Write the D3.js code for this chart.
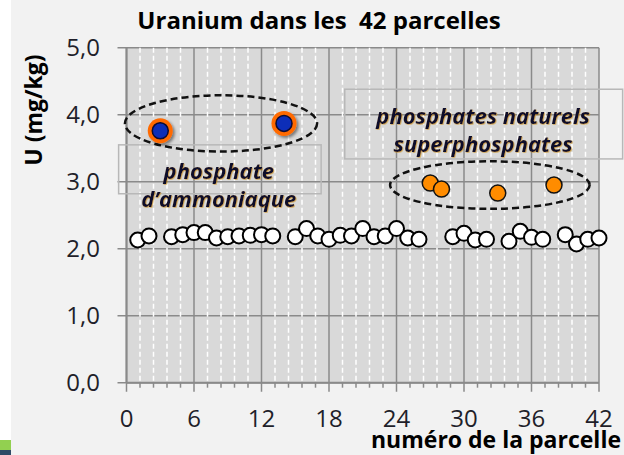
<!DOCTYPE html>
<html>
<head>
<meta charset="utf-8">
<script src="https://cdn.jsdelivr.net/npm/d3@7"></script>
<style>
  html, body { margin: 0; padding: 0; background: #f2f2f2; }
  svg { display: block; font-family: "Open Sans", "Noto Sans", sans-serif; }
</style>
</head>
<body>
<div id="container"></div>
<script>
/* DATA */
const parcelle = [1, 2, 3, 4, 5, 6, 7, 8, 9, 10, 11, 12, 13, 14, 15, 16, 17, 18, 19, 20, 21,
  22, 23, 24, 25, 26, 27, 28, 29, 30, 31, 32, 33, 34, 35, 36, 37, 38, 39, 40, 41, 42];
const uranium = [2.13, 2.19, 3.76, 2.18, 2.21, 2.24, 2.24, 2.16, 2.18, 2.19, 2.20, 2.21, 2.19, 3.87,
  2.18, 2.30, 2.19, 2.14, 2.20, 2.19, 2.30, 2.18, 2.19, 2.30, 2.16, 2.14, 2.98, 2.89,
  2.18, 2.23, 2.13, 2.14, 2.83, 2.11, 2.26, 2.17, 2.14, 2.95, 2.21, 2.07, 2.14, 2.16];
// parcelles fertilisées
const ammonium = [3, 14];
const naturels = [27, 28, 33, 38];

const xTicks = [0, 6, 12, 18, 24, 30, 36, 42];
const yTicks = [0, 1, 2, 3, 4, 5];
const minorStep = 1.2;

/* CONSTANTS AND GLOBALS */
const width = 624,
  height = 455,
  margin = { top: 47.7, bottom: 72.3, left: 126.5, right: 25 };

const svg = d3.select("#container")
  .append("svg")
  .attr("width", width)
  .attr("height", height);

const defs = svg.append("defs");
defs.append("filter").attr("id", "shadow")
  .attr("x", "-50%").attr("y", "-50%").attr("width", "200%").attr("height", "200%")
  .append("feDropShadow")
  .attr("dx", 2).attr("dy", 2).attr("stdDeviation", 1.5)
  .attr("flood-color", "#000").attr("flood-opacity", 0.45);
defs.append("filter").attr("id", "glow")
  .attr("x", "-10%").attr("y", "-30%").attr("width", "120%").attr("height", "160%")
  .append("feDropShadow")
  .attr("dx", 0.7).attr("dy", 0.7).attr("stdDeviation", 0.4)
  .attr("flood-color", "#c98a10").attr("flood-opacity", 0.75);

// bordure de la diapo
svg.append("rect").attr("x", 0).attr("y", 0).attr("width", 11).attr("height", height).attr("fill", "#fff");
svg.append("rect").attr("x", 0).attr("y", 440).attr("width", 11).attr("height", 10).attr("fill", "#92d050");
svg.append("rect").attr("x", 0).attr("y", 450).attr("width", 11).attr("height", 5).attr("fill", "#2e4a66");

// SCALES
const x = d3.scaleLinear().domain([0, 42]).range([margin.left, width - margin.right]);
const y = d3.scaleLinear().domain([0, 5]).range([height - margin.bottom, margin.top]);

const gridGrey = "#8a8a8a";

// plot area
svg.append("rect")
  .attr("x", x(0)).attr("y", y(5))
  .attr("width", x(42) - x(0)).attr("height", y(0) - y(5))
  .attr("fill", "#d9d9d9");

const minor = d3.range(0, 42 + 0.001, minorStep).filter(v => xTicks.indexOf(Math.round(v * 10) / 10) < 0);

// horizontal gridlines
svg.selectAll("line.hgrid")
  .data(yTicks)
  .join("line")
  .attr("class", "hgrid")
  .attr("x1", x(0) - 9).attr("x2", x(42))
  .attr("y1", d => y(d)).attr("y2", d => y(d))
  .attr("stroke", gridGrey).attr("stroke-width", 1.5);

// minor vertical gridlines (white dashes)
svg.selectAll("line.vminor")
  .data(minor)
  .join("line")
  .attr("class", "vminor")
  .attr("x1", d => x(d)).attr("x2", d => x(d))
  .attr("y1", y(5)).attr("y2", y(0))
  .attr("stroke", "#fff").attr("stroke-width", 1.5)
  .attr("stroke-dasharray", "5,3");

// major vertical gridlines
svg.selectAll("line.vmajor")
  .data(xTicks)
  .join("line")
  .attr("class", "vmajor")
  .attr("x1", d => x(d)).attr("x2", d => x(d))
  .attr("y1", y(5)).attr("y2", y(0) + 9)
  .attr("stroke", gridGrey).attr("stroke-width", 1.5);

// minor ticks x
svg.selectAll("line.mtick")
  .data(minor)
  .join("line")
  .attr("class", "mtick")
  .attr("x1", d => x(d)).attr("x2", d => x(d))
  .attr("y1", y(0)).attr("y2", y(0) + 5)
  .attr("stroke", gridGrey).attr("stroke-width", 1.5);

// axis lines
svg.append("line").attr("x1", x(0)).attr("x2", x(0)).attr("y1", y(5)).attr("y2", y(0))
  .attr("stroke", gridGrey).attr("stroke-width", 2);
svg.append("line").attr("x1", x(0)).attr("x2", x(42)).attr("y1", y(0)).attr("y2", y(0))
  .attr("stroke", gridGrey).attr("stroke-width", 2);

// TICK LABELS
const fmt = d => d3.format(".1f")(d).replace(".", ",");
svg.selectAll("text.ylab")
  .data(yTicks)
  .join("text")
  .attr("class", "ylab")
  .attr("x", 100).attr("y", d => y(d))
  .attr("dy", "0.36em")
  .attr("text-anchor", "end")
  .style("font-size", "24px")
  .style("fill", "#1f1f2a")
  .text(fmt);

svg.selectAll("text.xlab")
  .data(xTicks)
  .join("text")
  .attr("class", "xlab")
  .attr("x", d => x(d)).attr("y", 427)
  .attr("text-anchor", "middle")
  .style("font-size", "24px")
  .style("fill", "#1f1f2a")
  .text(d => d);

// ANNOTATIONS : boxes + ellipses
const boxes = [
  { x0: -0.7, x1: 17.3, y0: 2.82, y1: 3.55, lines: ["phosphate", "d\u2019ammoniaque"], cx: 8.2, base: [179, 207] },
  { x0: 19.4, x1: 44.1, y0: 3.34, y1: 4.38, lines: ["phosphates naturels", "superphosphates"], cx: 31.7, base: [124, 152] }
];
svg.selectAll("rect.box")
  .data(boxes)
  .join("rect")
  .attr("class", "box")
  .attr("x", d => x(d.x0)).attr("width", d => x(d.x1) - x(d.x0))
  .attr("y", d => y(d.y1)).attr("height", d => y(d.y0) - y(d.y1))
  .attr("fill", "none").attr("stroke", "#b8b8b8").attr("stroke-width", 1.5);

const ellipses = [
  { cx: 8.4, cy: 3.87, rx: 8.54, ry: 0.42 },
  { cx: 32.3, cy: 2.95, rx: 8.87, ry: 0.355 }
];
svg.selectAll("ellipse.grp")
  .data(ellipses)
  .join("ellipse")
  .attr("class", "grp")
  .attr("cx", d => x(d.cx)).attr("cy", d => y(d.cy))
  .attr("rx", d => x(d.rx) - x(0)).attr("ry", d => y(0) - y(d.ry))
  .attr("fill", "none").attr("stroke", "#111").attr("stroke-width", 2.5)
  .attr("stroke-dasharray", "7,4");

boxes.forEach(b => {
  b.lines.forEach((t, i) => {
    svg.append("text")
      .attr("x", x(b.cx)).attr("y", b.base[i])
      .attr("text-anchor", "middle")
      .attr("filter", "url(#glow)")
      .style("font-size", "22px")
      .style("font-weight", "bold")
      .style("font-style", "italic")
      .style("fill", "#10102a")
      .text(t);
  });
});

// POINTS
const data = parcelle.map((p, i) => ({ p, u: uranium[i] }));
const autres = data.filter(d => ammonium.indexOf(d.p) < 0 && naturels.indexOf(d.p) < 0);

svg.selectAll("circle.autre")
  .data(autres)
  .join("circle")
  .attr("class", "autre")
  .attr("cx", d => x(d.p)).attr("cy", d => y(d.u))
  .attr("r", 7.5)
  .attr("fill", "#fff").attr("stroke", "#000").attr("stroke-width", 2);

svg.selectAll("circle.nat")
  .data(data.filter(d => naturels.indexOf(d.p) >= 0))
  .join("circle")
  .attr("class", "nat")
  .attr("cx", d => x(d.p)).attr("cy", d => y(d.u))
  .attr("r", 8)
  .attr("fill", "#ff8c00").attr("stroke", "#111").attr("stroke-width", 1.5);

const amm = svg.selectAll("g.amm")
  .data(data.filter(d => ammonium.indexOf(d.p) >= 0))
  .join("g")
  .attr("class", "amm")
  .attr("filter", "url(#shadow)");
amm.append("circle")
  .attr("cx", d => x(d.p)).attr("cy", d => y(d.u))
  .attr("r", 12.5).attr("fill", "#ff6a00");
amm.append("circle")
  .attr("cx", d => x(d.p)).attr("cy", d => y(d.u))
  .attr("r", 8).attr("fill", "#0a2db8").attr("stroke", "#0a0a30").attr("stroke-width", 1.5);

// TITLES
svg.append("text")
  .attr("x", 319).attr("y", 29)
  .attr("text-anchor", "middle")
  .style("white-space", "pre")
  .style("font-size", "24px")
  .style("font-weight", "bold")
  .style("fill", "#000")
  .text("Uranium dans les  42 parcelles");

svg.append("text")
  .attr("x", 621).attr("y", 448)
  .attr("text-anchor", "end")
  .style("font-size", "23px")
  .style("font-weight", "bold")
  .style("fill", "#000")
  .text("numéro de la parcelle");

svg.append("text")
  .attr("transform", "translate(42,110) rotate(-90)")
  .attr("text-anchor", "middle")
  .style("font-size", "23px")
  .style("font-weight", "bold")
  .style("fill", "#000")
  .text("U (mg/kg)");
</script>
</body>
</html>
